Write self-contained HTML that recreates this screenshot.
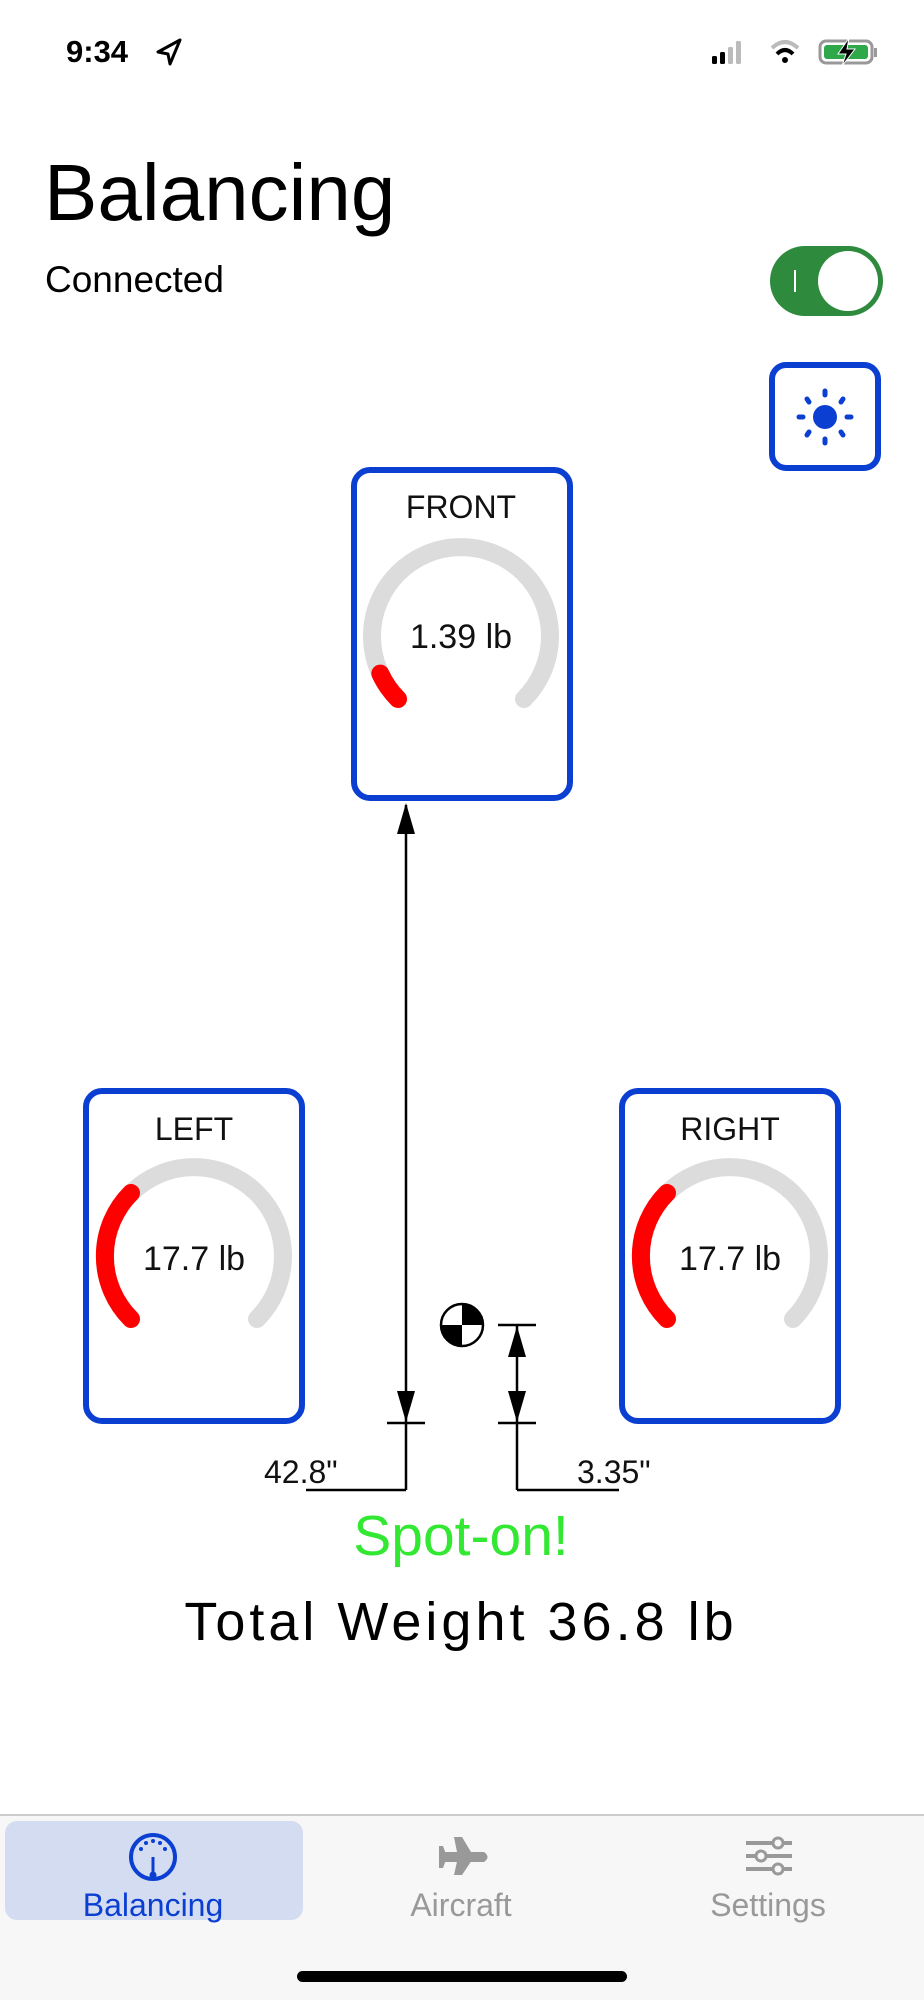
<!DOCTYPE html>
<html><head><meta charset="utf-8"><style>
html,body{margin:0;padding:0;background:#fff;}
body{width:924px;height:2000px;position:relative;overflow:hidden;font-family:"Liberation Sans",sans-serif;}
svg{position:absolute;left:0;top:0;}
</style></head><body>
<svg width="924" height="2000" viewBox="0 0 924 2000" xmlns="http://www.w3.org/2000/svg" font-family="Liberation Sans, sans-serif">
<!-- status bar -->
<text x="66" y="62" font-size="31" font-weight="bold" fill="#000">9:34</text>
<path d="M180 40 L158 52 L168 54 L170 64 Z" fill="none" stroke="#000" stroke-width="3" stroke-linejoin="round"/>
<rect x="712" y="56" width="5" height="8" rx="1.5" fill="#000"/>
<rect x="720" y="52" width="5" height="12" rx="1.5" fill="#000"/>
<rect x="728" y="47" width="5" height="17" rx="1.5" fill="#bbb"/>
<rect x="736" y="41" width="5" height="23" rx="1.5" fill="#bbb"/>
<path d="M772 48 Q785 36 798 48" fill="none" stroke="#bbb" stroke-width="4"/>
<path d="M777 54 Q785 46 793 54" fill="none" stroke="#000" stroke-width="4"/>
<circle cx="785" cy="60" r="3" fill="#000"/>
<rect x="820" y="41" width="52" height="22" rx="6" fill="none" stroke="#999" stroke-width="3"/>
<rect x="824" y="45" width="44" height="14" rx="3" fill="#2fa84a"/>
<rect x="874" y="48" width="3" height="9" fill="#999"/>
<path d="M849 38 L838 54 L846 54 L842 66 L855 49 L847 49 Z" fill="#000" stroke="#fff" stroke-width="1"/>
<!-- title -->
<text x="44" y="220" font-size="80" fill="#000">Balancing</text>
<text x="45" y="292" font-size="37" fill="#000">Connected</text>
<!-- toggle -->
<rect x="770" y="246" width="113" height="70" rx="35" fill="#2e8b3e"/>
<circle cx="848" cy="281" r="30" fill="#fff"/>
<rect x="794" y="270" width="2" height="22" fill="#fff"/>
<!-- sun button -->
<rect x="772" y="365" width="106" height="103" rx="14" fill="#fff" stroke="#0a3fd1" stroke-width="6"/>
<g stroke="#0a3fd1" stroke-width="5" stroke-linecap="round">
<circle cx="825" cy="417" r="12" fill="#0a3fd1" stroke="none"/>
<line x1="825" y1="391" x2="825" y2="395"/><line x1="825" y1="439" x2="825" y2="443"/>
<line x1="799" y1="417" x2="803" y2="417"/><line x1="847" y1="417" x2="851" y2="417"/>
<line x1="807" y1="399" x2="809" y2="402"/><line x1="841" y1="432" x2="843" y2="435"/>
<line x1="843" y1="399" x2="841" y2="402"/><line x1="809" y1="432" x2="807" y2="435"/>
</g>
<!-- cards -->
<g fill="#fff" stroke="#0a3fd1" stroke-width="6">
<rect x="354" y="470" width="216" height="328" rx="16"/>
<rect x="86" y="1091" width="216" height="330" rx="16"/>
<rect x="622" y="1091" width="216" height="330" rx="16"/>
</g>
<!-- gauges -->
<g fill="none" stroke-width="18" stroke-linecap="round">
<path d="M398 699 A89 89 0 1 1 524 699" stroke="#dcdcdc"/>
<path d="M398 699 A89 89 0 0 1 380.3 673.6" stroke="#f00"/>
<path d="M131 1319 A89 89 0 1 1 257 1319" stroke="#dcdcdc"/>
<path d="M131 1319 A89 89 0 0 1 131 1193" stroke="#f00"/>
<path d="M667 1319 A89 89 0 1 1 793 1319" stroke="#dcdcdc"/>
<path d="M667 1319 A89 89 0 0 1 667 1193" stroke="#f00"/>
</g>
<g font-size="32" fill="#111" text-anchor="middle">
<text x="461" y="518">FRONT</text>
<text x="194" y="1140">LEFT</text>
<text x="730" y="1140">RIGHT</text>
<text x="461" y="648" font-size="34">1.39  lb</text>
<text x="194" y="1270" font-size="34">17.7  lb</text>
<text x="730" y="1270" font-size="34">17.7  lb</text>
</g>
<!-- dimensions -->
<g stroke="#000" stroke-width="2.5" fill="none">
<line x1="406" y1="805" x2="406" y2="1490"/>
<line x1="406" y1="1490" x2="306" y2="1490"/>
<line x1="387" y1="1423" x2="425" y2="1423"/>
<line x1="517" y1="1325" x2="517" y2="1490"/>
<line x1="517" y1="1490" x2="619" y2="1490"/>
<line x1="498" y1="1325" x2="536" y2="1325"/>
<line x1="498" y1="1423" x2="536" y2="1423"/>
</g>
<g fill="#000">
<path d="M406 803 L397 834 L415 834 Z"/>
<path d="M406 1422 L397 1391 L415 1391 Z"/>
<path d="M517 1326 L508 1357 L526 1357 Z"/>
<path d="M517 1422 L508 1391 L526 1391 Z"/>
</g>
<text x="264" y="1483" font-size="32" fill="#111">42.8"</text>
<text x="577" y="1483" font-size="32" fill="#111">3.35"</text>
<!-- CG symbol -->
<circle cx="462" cy="1325" r="21" fill="#fff" stroke="#000" stroke-width="2.5"/>
<path d="M462 1304 A21 21 0 0 1 483 1325 L462 1325 Z" fill="#000"/>
<path d="M462 1346 A21 21 0 0 1 441 1325 L462 1325 Z" fill="#000"/>
<text x="461" y="1555" font-size="57" fill="#33e833" text-anchor="middle">Spot-on!</text>
<text x="461" y="1640" font-size="54" fill="#000" text-anchor="middle" letter-spacing="4">Total Weight 36.8 lb</text>
<!-- tab bar -->
<rect x="0" y="1815" width="924" height="185" fill="#f7f7f7"/>
<line x1="0" y1="1815" x2="924" y2="1815" stroke="#ccc" stroke-width="2"/>
<rect x="5" y="1821" width="298" height="99" rx="12" fill="#d4dcf2"/>
<circle cx="153" cy="1857" r="22" fill="none" stroke="#0a3fd1" stroke-width="4"/>
<line x1="153" y1="1857" x2="153" y2="1873" stroke="#0a3fd1" stroke-width="3"/>
<circle cx="153" cy="1875" r="3.5" fill="#0a3fd1"/>
<g fill="#0a3fd1"><circle cx="141" cy="1849" r="2"/><circle cx="146" cy="1843" r="2"/><circle cx="153" cy="1841" r="2"/><circle cx="160" cy="1843" r="2"/><circle cx="165" cy="1849" r="2"/></g>
<text x="153" y="1916" font-size="32" fill="#0a3fd1" text-anchor="middle">Balancing</text>
<g fill="#999">
<path d="M440 1852 L484 1852 Q491 1857 484 1862 L440 1862 Z"/>
<path d="M454 1875 L462 1875 L474 1857 L462 1837 L454 1837 L458 1857 Z"/>
<path d="M439 1846 L443 1846 L447 1857 L443 1868 L439 1868 Z"/>
</g>
<text x="461" y="1916" font-size="32" fill="#999" text-anchor="middle">Aircraft</text>
<g stroke="#999" stroke-width="4"><line x1="746" y1="1843" x2="792" y2="1843"/><line x1="746" y1="1856" x2="792" y2="1856"/><line x1="746" y1="1869" x2="792" y2="1869"/></g>
<g fill="#f7f7f7" stroke="#999" stroke-width="3"><circle cx="778" cy="1843" r="5"/><circle cx="761" cy="1856" r="5"/><circle cx="778" cy="1869" r="5"/></g>
<text x="768" y="1916" font-size="32" fill="#999" text-anchor="middle">Settings</text>
<rect x="297" y="1971" width="330" height="11" rx="5.5" fill="#000"/>
</svg>
</body></html>
